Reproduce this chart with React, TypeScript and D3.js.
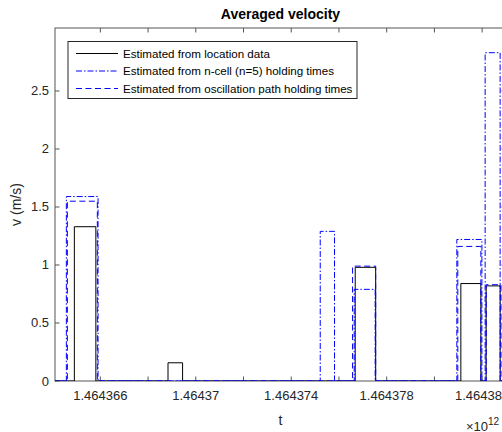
import React from "react";
import * as d3 from "d3";

// time values in units of 1e6 ms (axis shows ×10^12 with tick labels 1.464366 ...)
const locStart = [1464364.911, 1464368.836, 1464376.681, 1464381.108, 1464382.168];
const locEnd = [1464365.812, 1464369.447, 1464377.539, 1464381.946, 1464382.754];
const locValue = [1.33, 0.157, 0.98, 0.84, 0.82];

const ncellStart = [1464364.576, 1464375.215, 1464376.639, 1464380.94, 1464382.126];
const ncellEnd = [1464365.904, 1464375.814, 1464377.518, 1464381.99, 1464382.754];
const ncellValue = [1.59, 1.29, 0.79, 1.22, 2.83];

const oscStart = [1464364.618, 1464376.57, 1464380.98, 1464382.17];
const oscEnd = [1464365.874, 1464377.539, 1464381.946, 1464382.79];
const oscValue = [1.55, 0.99, 1.16, 0.83];

const xTicks = [1464366, 1464368, 1464370, 1464372, 1464374, 1464376, 1464378, 1464380, 1464382];
const xTickLabels = ["1.464366", "", "1.46437", "", "1.464374", "", "1.464378", "", "1.464382"];
const yTicks = [0, 0.5, 1, 1.5, 2, 2.5];
const yTickLabels = ["0", "0.5", "1", "1.5", "2", "2.5"];

const seriesNames = [
  "Estimated from location data",
  "Estimated from n-cell (n=5) holding times",
  "Estimated from oscillation path holding times",
];

const X_MIN = 1464364.1;
const X_MAX = 1464383.0;

function stepPoints(starts: number[], ends: number[], vals: number[]): [number, number][] {
  const pts: [number, number][] = [[X_MIN - 1, 0]];
  starts.forEach((s, i) => {
    pts.push([s, 0], [s, vals[i]], [ends[i], vals[i]], [ends[i], 0]);
  });
  pts.push([X_MAX + 1, 0]);
  return pts;
}

export default function App() {
  const W = 502;
  const H = 432;
  const left = 55;
  const right = 506;
  const top = 28;
  const bottom = 381;

  const x = d3.scaleLinear().domain([X_MIN, X_MAX]).range([left, right]);
  const y = d3.scaleLinear().domain([0, 3.043]).range([bottom, top]);
  const line = d3
    .line<[number, number]>()
    .x((d) => x(d[0]))
    .y((d) => y(d[1]));

  const font = "'Liberation Sans', Arial, Helvetica, sans-serif";
  const axisColor = "#555555";
  const textColor = "#262626";
  const tickLen = 4.5;

  const series = [
    { pts: stepPoints(locStart, locEnd, locValue), color: "#000000", dash: "none" },
    { pts: stepPoints(ncellStart, ncellEnd, ncellValue), color: "#0000ff", dash: "6,2,1.5,2" },
    { pts: stepPoints(oscStart, oscEnd, oscValue), color: "#0000ff", dash: "6,3.5" },
  ];

  const legX = 68;
  const legY = 41.5;
  const legW = 289;
  const legH = 57;

  return (
    <svg
      width={W}
      height={H}
      style={{ position: "absolute", left: 0, top: 0, background: "#fff" }}
      fontFamily={font}
    >
      <rect x={0} y={0} width={W} height={H} fill="#fff" />
      <defs>
        <clipPath id="plotclip">
          <rect x={left} y={top} width={right - left} height={bottom - top} />
        </clipPath>
      </defs>
      {/* axes box */}
      <rect x={left} y={top} width={right - left} height={bottom - top} fill="#fff" stroke={axisColor} strokeWidth={1} />
      {/* x ticks */}
      {xTicks.map((t, i) => (
        <g key={"xt" + i}>
          <line x1={x(t)} x2={x(t)} y1={bottom} y2={bottom - tickLen} stroke={axisColor} />
          <line x1={x(t)} x2={x(t)} y1={top} y2={top + tickLen} stroke={axisColor} />
          {xTickLabels[i] && (
            <text x={x(t)} y={bottom + 19} textAnchor="middle" fontSize={13} fill={textColor}>
              {xTickLabels[i]}
            </text>
          )}
        </g>
      ))}
      {/* y ticks */}
      {yTicks.map((v, i) => (
        <g key={"yt" + i}>
          <line x1={left} x2={left + tickLen} y1={y(v)} y2={y(v)} stroke={axisColor} />
          <line x1={right} x2={right - tickLen} y1={y(v)} y2={y(v)} stroke={axisColor} />
          <text x={left - 6} y={y(v) + 4.5} textAnchor="end" fontSize={13} fill={textColor}>
            {yTickLabels[i]}
          </text>
        </g>
      ))}
      {/* data */}
      <g clipPath="url(#plotclip)">
        {series.map((s, i) => (
          <path
            key={"s" + i}
            d={line(s.pts) || ""}
            fill="none"
            stroke={s.color}
            strokeWidth={1}
            strokeDasharray={s.dash}
          />
        ))}
      </g>
      {/* labels */}
      <text x={(left + right) / 2} y={19} textAnchor="middle" fontSize={14} fontWeight="bold" fill="#000">
        Averaged velocity
      </text>
      <text x={(left + right) / 2} y={425} textAnchor="middle" fontSize={14} fill={textColor}>
        t
      </text>
      <text
        transform={`translate(21,${(top + bottom) / 2}) rotate(-90)`}
        textAnchor="middle"
        fontSize={14}
        fill={textColor}
      >
        v (m/s)
      </text>
      <text x={466} y={431} fontSize={13} fill={textColor}>
        <tspan>×10</tspan>
        <tspan dy={-6} fontSize={10}>12</tspan>
      </text>
      {/* legend */}
      <rect x={legX} y={legY} width={legW} height={legH} fill="#fff" stroke={textColor} strokeWidth={1} />
      {seriesNames.map((n, i) => {
        const ly = legY + 12 + i * 17.5;
        return (
          <g key={"lg" + i}>
            <line
              x1={76}
              x2={118}
              y1={ly}
              y2={ly}
              stroke={series[i].color}
              strokeWidth={1}
              strokeDasharray={series[i].dash}
            />
            <text x={123} y={ly + 4} fontSize={11.6} fill="#000">
              {n}
            </text>
          </g>
        );
      })}
    </svg>
  );
}
